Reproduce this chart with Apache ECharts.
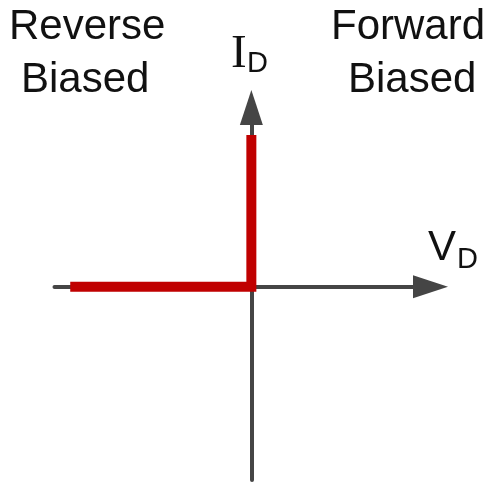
<!DOCTYPE html>
<html>
<head>
<meta charset="utf-8">
<script src="https://cdn.jsdelivr.net/npm/echarts@6/dist/echarts.min.js"></script>
<style>
  html, body { margin: 0; padding: 0; background: #fff; }
  #chart { width: 489px; height: 482px; }
</style>
</head>
<body>
<div id="chart"></div>
<script>
// diode I-V curve (ideal): flat in reverse bias, vertical in forward bias
const vD = [-0.92, 0, 0];
const iD = [0, 0, 0.77];

// axis extents (arbitrary units, origin at the crossing)
const xRange = [-1, 0.91];
const yRange = [-0.98, 0.91];

// text labels
const regionLabels = [['Reverse', 'Biased'], ['Forward', 'Biased']];
const axisLabels = { x: ['V', 'D'], y: ['I', 'D'] };

const curve = vD.map(function (v, i) { return [v, iD[i]]; });

const chart = echarts.init(document.getElementById('chart'));

const sans = '"Liberation Sans", Arial, sans-serif';
const txtColor = '#111';

function txt(x, y, s, size, family, align) {
    return {
        type: 'text',
        x: x,
        y: y,
        silent: true,
        style: {
            text: s,
            fill: txtColor,
            font: size + 'px ' + family,
            align: align || 'left',
            verticalAlign: 'middle'
        }
    };
}

const option = {
    animation: false,
    backgroundColor: '#fff',
    grid: { left: 54.5, right: 58.5, top: 107.5, bottom: 2 },
    xAxis: {
        type: 'value',
        min: xRange[0],
        max: xRange[1],
        axisLine: {
            onZero: true,
            symbol: ['none', 'triangle'],
            symbolSize: [23, 35],
            lineStyle: { color: '#454545', width: 4 }
        },
        axisTick: { show: false },
        axisLabel: { show: false },
        splitLine: { show: false }
    },
    yAxis: {
        type: 'value',
        min: yRange[0],
        max: yRange[1],
        axisLine: {
            onZero: true,
            symbol: ['none', 'triangle'],
            symbolSize: [23, 35],
            lineStyle: { color: '#454545', width: 4 }
        },
        axisTick: { show: false },
        axisLabel: { show: false },
        splitLine: { show: false }
    },
    series: [{
        type: 'line',
        data: curve,
        showSymbol: false,
        silent: true,
        lineStyle: { color: '#c00000', width: 10, join: 'miter', cap: 'butt' }
    }],
    graphic: [
        txt(9, 27.5, regionLabels[0][0], 42, sans),
        txt(21, 80.5, regionLabels[0][1], 42, sans),
        txt(331, 27.5, regionLabels[1][0], 42, sans),
        txt(348, 80.5, regionLabels[1][1], 42, sans),
        txt(231, 55, axisLabels.y[0], 47, '"Liberation Serif", serif'),
        txt(247, 64, axisLabels.y[1], 29, sans),
        txt(428, 248.5, axisLabels.x[0], 42, sans),
        txt(457, 260, axisLabels.x[1], 29, sans)
    ]
};

chart.setOption(option);
</script>
</body>
</html>
